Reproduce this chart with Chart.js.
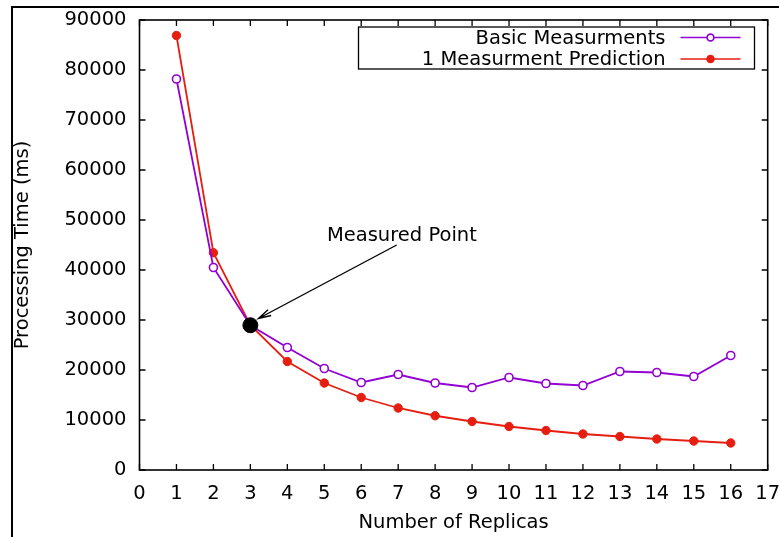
<!DOCTYPE html>
<html>
<head>
<meta charset="utf-8">
<script src="https://cdn.jsdelivr.net/npm/chart.js@4.4.0/dist/chart.umd.min.js"></script>
<style>
  html, body { margin: 0; padding: 0; background: #fff; overflow: hidden; }
  #wrap { position: relative; width: 779px; height: 537px; }
  #myChart { position: absolute; left: 0; top: 0; }
  /* outer figure frame, cut off on the right and bottom */
  #frame { position: absolute; left: 11px; top: 6px; width: 900px; height: 700px;
           border-top: 2px solid #000; border-left: 2px solid #000; }
</style>
</head>
<body>
<div id="wrap">
  <canvas id="myChart" width="779" height="537"></canvas>
  <div id="frame"></div>
</div>
<script>
/* data */
var replicas = [1, 2, 3, 4, 5, 6, 7, 8, 9, 10, 11, 12, 13, 14, 15, 16];
var basic = [78200, 40500, 28950, 24500, 20300, 17500, 19100, 17400, 16500, 18500, 17300, 16900, 19700, 19500, 18700, 22900];
var prediction = [86900, 43450, 28950, 21700, 17400, 14500, 12400, 10850, 9700, 8700, 7900, 7200, 6700, 6200, 5800, 5400];
var measuredPoint = [3, 28950];
var xTicks = [0, 1, 2, 3, 4, 5, 6, 7, 8, 9, 10, 11, 12, 13, 14, 15, 16, 17];
var yTicks = [0, 10000, 20000, 30000, 40000, 50000, 60000, 70000, 80000, 90000];
var seriesNames = ['Basic Measurments', '1 Measurment Prediction'];
var annotationText = 'Measured Point';

var FONT = { family: 'DejaVu Sans', size: 19.5 };
var PURPLE = '#9400d3';
var RED = '#e51e10';

function toPoints(xs, ys) {
  return xs.map(function (x, i) { return { x: x, y: ys[i] }; });
}

/* gnuplot style box with inward ticks on all four sides */
var boxPlugin = {
  id: 'boxPlugin',
  beforeDatasetsDraw: function (chart) {
    var ctx = chart.ctx, a = chart.chartArea;
    var xs = chart.scales.x, ys = chart.scales.y;
    var t = 6;
    ctx.save();
    ctx.strokeStyle = '#000';
    ctx.lineWidth = 1.3;
    ctx.beginPath();
    xTicks.forEach(function (v) {
      var px = xs.getPixelForValue(v);
      ctx.moveTo(px, a.bottom); ctx.lineTo(px, a.bottom - t);
      ctx.moveTo(px, a.top); ctx.lineTo(px, a.top + t);
    });
    yTicks.forEach(function (v) {
      var py = ys.getPixelForValue(v);
      ctx.moveTo(a.left, py); ctx.lineTo(a.left + t, py);
      ctx.moveTo(a.right, py); ctx.lineTo(a.right - t, py);
    });
    ctx.stroke();
    ctx.lineWidth = 1.6;
    ctx.strokeRect(a.left, a.top, a.right - a.left, a.bottom - a.top);
    ctx.restore();
  }
};

/* arrow label and legend */
var extrasPlugin = {
  id: 'extrasPlugin',
  afterDatasetsDraw: function (chart) {
    var ctx = chart.ctx, a = chart.chartArea;
    var xs = chart.scales.x, ys = chart.scales.y;
    ctx.save();
    ctx.font = FONT.size + 'px "' + FONT.family + '"';
    ctx.fillStyle = '#000';

    // annotation
    ctx.textAlign = 'center';
    ctx.textBaseline = 'middle';
    ctx.fillText(annotationText, xs.getPixelForValue(7.1), ys.getPixelForValue(46900));
    var x0 = xs.getPixelForValue(6.96), y0 = ys.getPixelForValue(45000);
    var x1 = xs.getPixelForValue(3.22), y1 = ys.getPixelForValue(30300);
    var ang = Math.atan2(y1 - y0, x1 - x0);
    var hl = 13, ha = 0.26;
    ctx.strokeStyle = '#000';
    ctx.lineWidth = 1.4;
    ctx.beginPath();
    ctx.moveTo(x0, y0); ctx.lineTo(x1, y1);
    ctx.moveTo(x1 - hl * Math.cos(ang - ha), y1 - hl * Math.sin(ang - ha));
    ctx.lineTo(x1, y1);
    ctx.lineTo(x1 - hl * Math.cos(ang + ha), y1 - hl * Math.sin(ang + ha));
    ctx.stroke();

    // legend
    var bx = a.left + 219, by = a.top + 7, bw = 396, bh = 42;
    ctx.fillStyle = '#fff';
    ctx.fillRect(bx, by, bw, bh);
    ctx.lineWidth = 1.3;
    ctx.strokeRect(bx, by, bw, bh);
    ctx.textAlign = 'right';
    chart.data.datasets.slice(0, 2).forEach(function (ds, i) {
      var cy = by + 10.5 + i * 21.5;
      ctx.fillStyle = '#000';
      ctx.fillText(ds.label, bx + 307, cy + 1);
      ctx.strokeStyle = ds.borderColor;
      ctx.lineWidth = 1.7;
      ctx.beginPath();
      ctx.moveTo(bx + 322, cy); ctx.lineTo(bx + 382, cy);
      ctx.stroke();
      ctx.beginPath();
      ctx.arc(bx + 352, cy, 3.4, 0, Math.PI * 2);
      ctx.fillStyle = ds.pointBackgroundColor;
      ctx.fill();
      ctx.strokeStyle = ds.pointBorderColor;
      ctx.stroke();
    });
    ctx.restore();
  }
};

var ctx = document.getElementById('myChart');

var myChart = new Chart(ctx, {
  type: 'line',
  data: {
    datasets: [{
      label: seriesNames[0],
      data: toPoints(replicas, basic),
      borderColor: PURPLE,
      borderWidth: 1.8,
      pointRadius: 4,
      pointBorderWidth: 1.6,
      pointBackgroundColor: '#fff',
      pointBorderColor: PURPLE,
      tension: 0,
      order: 2
    }, {
      label: seriesNames[1],
      data: toPoints(replicas, prediction),
      borderColor: RED,
      borderWidth: 1.8,
      pointRadius: 4.2,
      pointBorderWidth: 1,
      pointBackgroundColor: RED,
      pointBorderColor: RED,
      tension: 0,
      order: 3
    }, {
      label: 'measured',
      data: [{ x: measuredPoint[0], y: measuredPoint[1] }],
      showLine: false,
      pointRadius: 7.5,
      pointBackgroundColor: '#000',
      pointBorderColor: '#000',
      order: 1
    }]
  },
  options: {
    responsive: false,
    animation: false,
    layout: { padding: { left: 0, right: 11.3, top: 20, bottom: 0 } },
    plugins: { legend: { display: false }, tooltip: { enabled: false } },
    scales: {
      x: {
        type: 'linear',
        min: 0, max: 17,
        afterBuildTicks: function (s) { s.ticks = xTicks.map(function (v) { return { value: v }; }); },
        afterFit: function (s) { s.height = 67; s.paddingLeft = 0; s.paddingRight = 0; },
        ticks: { font: FONT, color: '#000', padding: 12, maxRotation: 0, autoSkip: false },
        grid: { drawOnChartArea: false, drawTicks: false },
        border: { display: false },
        title: { display: true, text: 'Number of Replicas', font: FONT, color: '#000', padding: { top: 0, bottom: 2 } }
      },
      y: {
        min: 0, max: 90000,
        afterBuildTicks: function (s) { s.ticks = yTicks.map(function (v) { return { value: v }; }); },
        afterFit: function (s) { s.width = 139.5; s.paddingTop = 0; s.paddingBottom = 0; },
        ticks: { font: FONT, color: '#000', padding: 13, callback: function (v) { return String(v); } },
        grid: { drawOnChartArea: false, drawTicks: false },
        border: { display: false },
        title: { display: true, text: 'Processing Time (ms)', font: FONT, color: '#000', padding: { top: 11, bottom: 0 } }
      }
    }
  },
  plugins: [boxPlugin, extrasPlugin]
});
</script>
</body>
</html>
